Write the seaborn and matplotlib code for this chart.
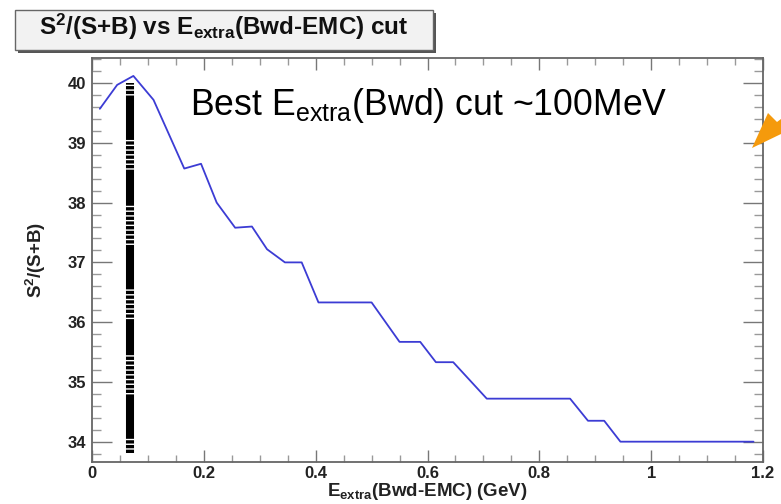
import matplotlib
matplotlib.use("Agg")
import matplotlib.pyplot as plt
import seaborn as sns
import numpy as np
import pandas as pd
from matplotlib.patches import Rectangle, Polygon
from matplotlib.ticker import MultipleLocator

# ---------------- data ----------------
e_cut = [0.014, 0.045, 0.074, 0.110, 0.165, 0.195, 0.223, 0.256, 0.286, 0.313,
         0.345, 0.375, 0.405, 0.500, 0.550, 0.587, 0.615, 0.646, 0.706, 0.855,
         0.887, 0.916, 0.945, 1.183]
fom = [39.57, 39.97, 40.12, 39.72, 38.57, 38.65, 38.00, 37.58, 37.60, 37.22,
       37.00, 37.00, 36.33, 36.33, 35.67, 35.67, 35.33, 35.33, 34.72, 34.72,
       34.35, 34.35, 34.00, 34.00]
best_cut = [0.068]
best_cut_range = [33.81, 40.0]
x_ticks = [0, 0.2, 0.4, 0.6, 0.8, 1.0, 1.2]
x_ticklabels = ["0", "0.2", "0.4", "0.6", "0.8", "1", "1.2"]
y_ticks = [34, 35, 36, 37, 38, 39, 40]
y_ticklabels = ["34", "35", "36", "37", "38", "39", "40"]

df = pd.DataFrame({"ecut": e_cut, "fom": fom})

# ---------------- style ----------------
sns.set_style("white")
plt.rcParams["font.family"] = ["Liberation Sans", "DejaVu Sans"]
plt.rcParams["mathtext.fontset"] = "custom"
plt.rcParams["mathtext.rm"] = "Liberation Sans"
plt.rcParams["mathtext.it"] = "Liberation Sans:italic"
plt.rcParams["mathtext.bf"] = "Liberation Sans:bold"
plt.rcParams["mathtext.default"] = "rm"
plt.rcParams["lines.scale_dashes"] = False

W, H = 781, 504
fig = plt.figure(figsize=(W / 100, H / 100), dpi=100)
L, R, T, B = 92, 763, 58, 462
ax = fig.add_axes([L / W, 1 - B / H, (R - L) / W, (B - T) / H])

sns.lineplot(data=df, x="ecut", y="fom", sort=False, estimator=None,
             color="#3c3cd4", lw=1.3, ax=ax)

# best-cut marker (thick dashed ROOT-style line)
dash = [2.4, 1.0] * 3 + [32, 1.0] + [2.4, 1.0] * 8 + [26, 1.0] + [2.4, 1.0] * 7
ax.plot([best_cut[0], best_cut[0]], best_cut_range, color="black", lw=5.8,
        solid_capstyle="butt", dash_capstyle="butt", linestyle=(0, dash))

ax.set_xlim(0, 1.2)
ax.set_ylim(33.66, 40.42)

ax.set_xticks(x_ticks)
ax.set_xticklabels(x_ticklabels)
ax.set_yticks(y_ticks)
ax.set_yticklabels(y_ticklabels)
ax.xaxis.set_minor_locator(MultipleLocator(0.05))
ax.yaxis.set_minor_locator(MultipleLocator(0.2))

for lab in ax.get_xticklabels() + ax.get_yticklabels():
    lab.set_fontweight("bold")
    lab.set_fontsize(12)
    lab.set_color("#222222")

ax.tick_params(axis="x", which="major", direction="in", length=8.6, width=1.0,
               color="#777777", top=True, bottom=True, pad=3)
ax.tick_params(axis="x", which="minor", direction="in", length=4.7, width=1.0,
               color="#999999", top=True, bottom=True)
ax.tick_params(axis="y", which="major", direction="in", length=14.4, width=1.0,
               color="#777777", left=True, right=True, pad=4)
ax.tick_params(axis="y", which="minor", direction="in", length=6.5, width=1.0,
               color="#999999", left=True, right=True)

for s in ax.spines.values():
    s.set_color("#666666")
    s.set_linewidth(1.3)

ax.set_xlabel(r"E$_{\mathbf{extra}}$(Bwd-EMC) (GeV)", fontsize=13.5,
              fontweight="bold", color="#222222")
ax.xaxis.set_label_coords(0.5, -0.046)
ax.set_ylabel(r"S$^{\mathbf{2}}$/(S+B)", fontsize=13.5, fontweight="bold",
              color="#222222")
ax.yaxis.set_label_coords(-0.066, 0.5)

ax.text(0.146, 0.859, r"Best E$_{\mathrm{extra}}$(Bwd) cut ~100MeV",
        transform=ax.transAxes, fontsize=25.7, color="black",
        ha="left", va="baseline")

# ---------------- title box ----------------
bx0, by0, bx1, by1 = 15, 10, 433, 50
fig.patches.append(Rectangle(((bx0 + 3) / W, 1 - (by1 + 3) / H),
                             (bx1 - bx0) / W, (by1 - by0) / H,
                             transform=fig.transFigure, facecolor="#555555",
                             edgecolor="none", zorder=1))
fig.patches.append(Rectangle((bx0 / W, 1 - by1 / H), (bx1 - bx0) / W,
                             (by1 - by0) / H, transform=fig.transFigure,
                             facecolor="#f2f2f2", edgecolor="#666666",
                             linewidth=1.0, zorder=2))
fig.text((bx0 + bx1) / 2 / W, 1 - 35 / H,
         r"S$^{\mathbf{2}}$/(S+B) vs E$_{\mathbf{extra}}$(Bwd-EMC) cut",
         fontsize=17.5, fontweight="bold", ha="center", va="baseline",
         color="#111111", zorder=3)

# orange pointer arrow partially visible at the right edge
arrow_px = [(752, 148), (768, 113), (777, 122), (781, 119), (781, 134)]
fig.patches.append(Polygon([(x / W, 1 - y / H) for x, y in arrow_px],
                           closed=True, transform=fig.transFigure,
                           facecolor="#f59a0c", edgecolor="none", zorder=5))

fig.savefig("out.png", dpi=100)
